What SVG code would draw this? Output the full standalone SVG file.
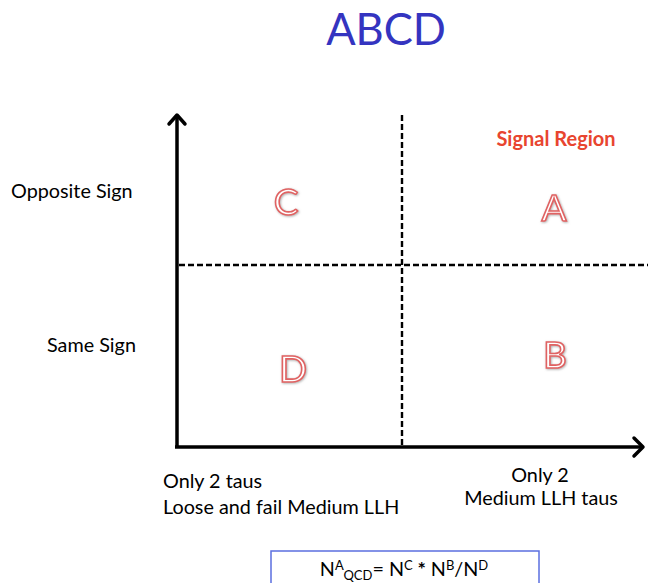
<svg xmlns="http://www.w3.org/2000/svg" width="648" height="583" viewBox="0 0 648 583">
<style>
.t{font-family:Lato,"Open Sans",sans-serif;fill:#000;font-size:19.8px}
.title{font-family:Lato,"Open Sans",sans-serif;fill:#3434c0;font-size:43.5px}
.sig{font-family:Lato,"Open Sans",sans-serif;fill:#e8452f;font-size:20px;font-weight:bold}
.reg{font-family:Lato,"Open Sans",sans-serif;font-size:37px;fill:#fff;stroke:#e06262;stroke-width:1.6;filter:url(#sh)}
.axis{stroke:#000;stroke-width:3.5;fill:none}
.dash{stroke:#000;stroke-width:2.4;stroke-dasharray:6 3;fill:none}
.ah{stroke:#000;stroke-width:3.5;fill:none;stroke-linecap:round;stroke-linejoin:round}
</style>
<defs>
<filter id="sh" x="-20%" y="-20%" width="140%" height="140%">
<feDropShadow dx="0.8" dy="0.8" stdDeviation="0.8" flood-color="#888" flood-opacity="0.7"/>
</filter>
</defs>
<rect width="648" height="583" fill="#fff"/>
<g id="title"><text class="title" x="386" y="45" text-anchor="middle">ABCD</text></g>
<g id="connectors">
<line class="axis" x1="177" y1="448" x2="177" y2="116"/>
<path class="ah" d="M169,124 L177,115 L185,124"/>
<line class="axis" x1="175" y1="447" x2="641" y2="447"/>
<path class="ah" d="M634,438 L643,447 L634,456"/>
<line class="dash" x1="402" y1="115" x2="402" y2="446"/>
<line class="dash" x1="179" y1="265" x2="648" y2="265"/>
</g>
<g id="signal-label"><text class="sig" x="556" y="146" text-anchor="middle">Signal Region</text></g>
<g id="region-C"><text class="reg" x="286" y="215" text-anchor="middle">C</text></g>
<g id="region-A"><text class="reg" x="554" y="221" text-anchor="middle">A</text></g>
<g id="region-D"><text class="reg" x="293" y="382" text-anchor="middle">D</text></g>
<g id="region-B"><text class="reg" x="555" y="368" text-anchor="middle">B</text></g>
<g id="y-labels">
<text class="t" x="11" y="198">Opposite Sign</text>
<text class="t" x="47" y="352">Same Sign</text>
</g>
<g id="x-labels">
<text class="t" x="163" y="488">Only 2 taus</text>
<text class="t" x="163" y="514">Loose and fail Medium LLH</text>
<text class="t" x="540" y="482" text-anchor="middle">Only 2</text>
<text class="t" x="541" y="505" text-anchor="middle">Medium LLH taus</text>
</g>
<g id="formula">
<rect x="271" y="551" width="268" height="40" fill="#fff" stroke="#5b6fe0" stroke-width="1.5"/>
<text class="t" x="404" y="576" text-anchor="middle" font-size="19.5">N<tspan font-size="13" dy="-6">A</tspan><tspan font-size="13" dy="10">QCD</tspan><tspan dy="-4">= N</tspan><tspan font-size="13" dy="-6">C</tspan><tspan dy="6" font-weight="bold"> * </tspan><tspan>N</tspan><tspan font-size="13" dy="-6">B</tspan><tspan dy="6">/N</tspan><tspan font-size="13" dy="-6">D</tspan></text>
</g>
</svg>
